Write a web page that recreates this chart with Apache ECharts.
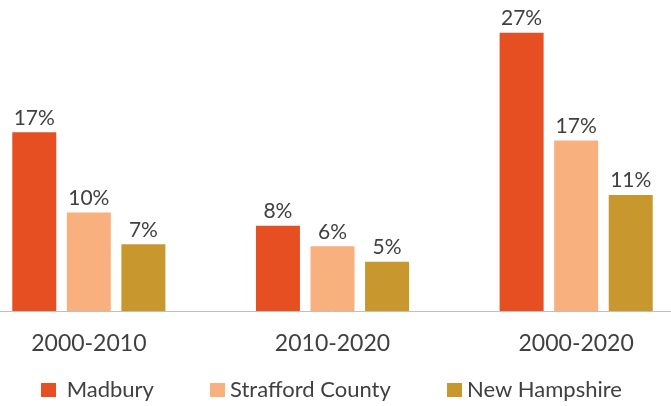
<!DOCTYPE html>
<html>
<head>
<meta charset="utf-8">
<script src="https://cdn.jsdelivr.net/npm/echarts@6/dist/echarts.min.js"></script>
<style>
  html, body { margin: 0; padding: 0; background: #fff; overflow: hidden; }
  /* the plot runs past both edges of the picture, so the chart box is wider than the window */
  #chart { width: 731px; height: 406px; margin-left: -33px; }
</style>
</head>
<body>
<div id="chart"></div>
<script>
// periods on the x axis
const periods = ['2000-2010', '2010-2020', '2000-2020']
// population growth, percent
const madbury = [17.4, 8.3, 27.1]
const strafford = [9.6, 6.3, 16.6]
const newHampshire = [6.5, 4.8, 11.3]

const colorList = ['#E54F22', '#F9B07F', '#C8982E']
const font = 'Lato'
const shift = 33

const chart = echarts.init(document.getElementById('chart'))

function barSeries(name, data, color) {
  return {
    name: name,
    type: 'bar',
    data: data,
    barWidth: 44,
    barGap: '24%',
    itemStyle: { color: color },
    label: {
      show: true,
      position: 'top',
      distance: 4,
      fontFamily: font,
      fontSize: 21,
      color: '#404040',
      formatter: (p) => Math.round(p.value) + '%',
    },
  }
}

function legendAt(name, left, lead) {
  return {
    data: [name],
    left: left + shift,
    top: 374,
    itemWidth: 15,
    itemHeight: 14,
    icon: 'rect',
    selectedMode: false,
    textStyle: { fontFamily: font, fontSize: 22, color: '#404040' },
    formatter: (n) => lead + n,
  }
}

chart.setOption({
  backgroundColor: '#fff',
  animation: false,
  grid: {
    left: 0,
    right: 0,
    top: 3,
    bottom: 95,
  },
  legend: [
    legendAt('Madbury', 36, ' '),
    legendAt('Strafford County', 205, ''),
    legendAt('New Hampshire', 442, ''),
  ],
  xAxis: {
    type: 'category',
    data: periods,
    axisTick: { show: false },
    axisLine: { lineStyle: { color: '#BFBFBF', width: 1 } },
    axisLabel: {
      interval: 0,
      margin: 21,
      fontFamily: font,
      fontSize: 23,
      color: '#404040',
    },
  },
  yAxis: {
    type: 'value',
    min: 0,
    max: 30,
    show: false,
    splitLine: { show: false },
  },
  series: [
    barSeries('Madbury', madbury, colorList[0]),
    barSeries('Strafford County', strafford, colorList[1]),
    barSeries('New Hampshire', newHampshire, colorList[2]),
  ],
})
</script>
</body>
</html>
